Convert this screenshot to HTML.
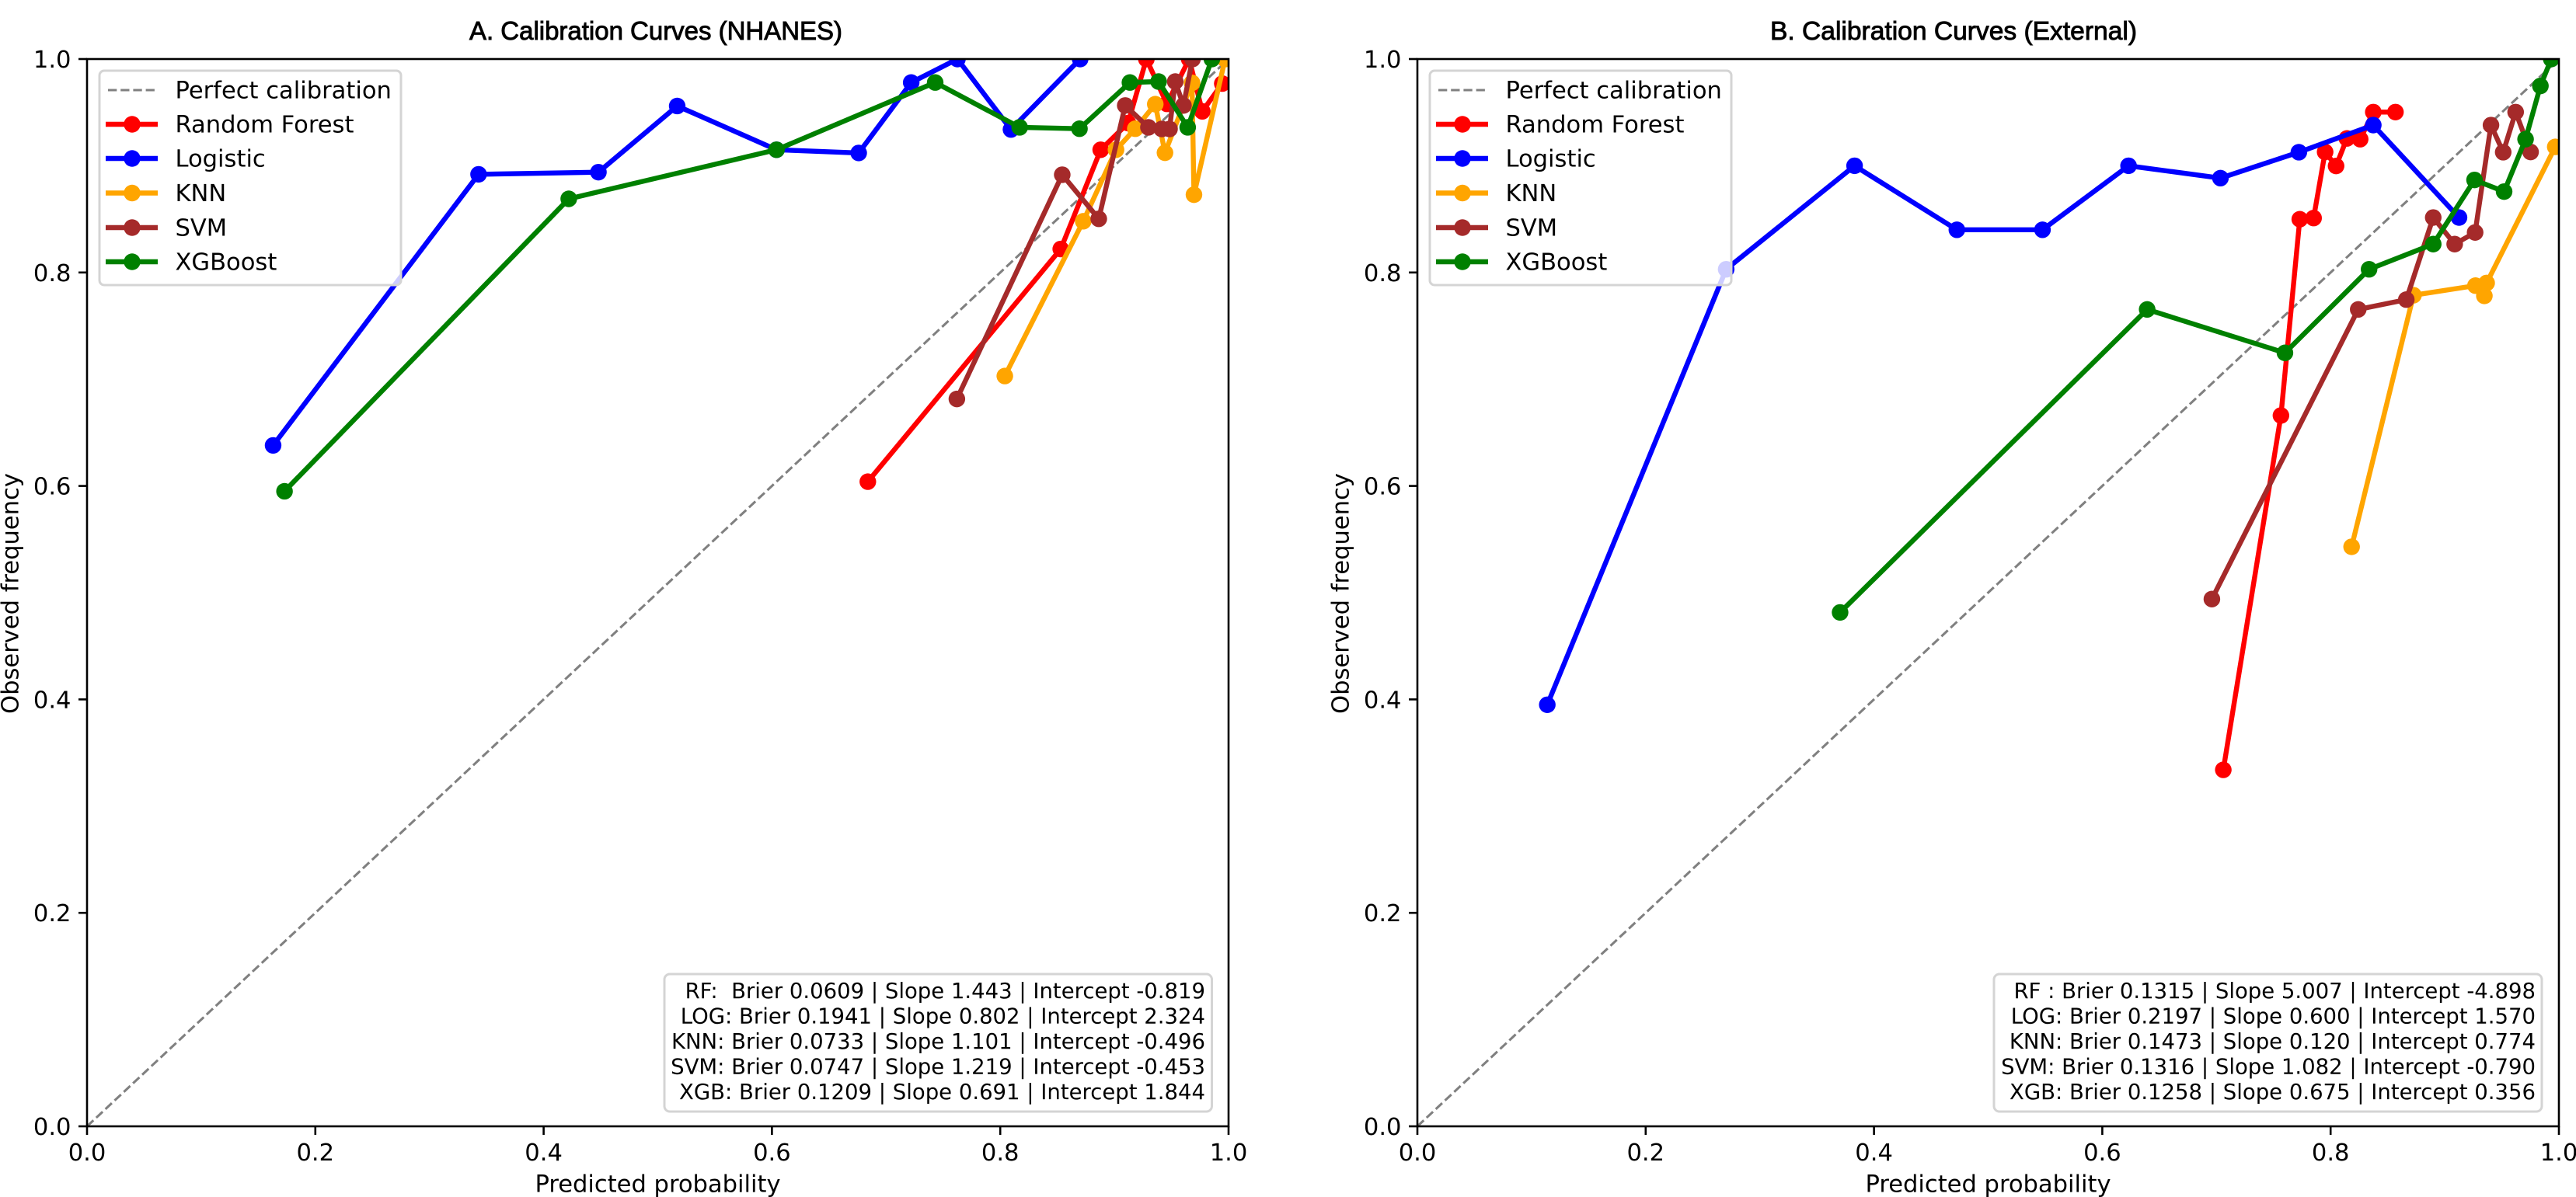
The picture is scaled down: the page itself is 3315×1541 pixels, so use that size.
<!DOCTYPE html>
<html lang="en">
<head>
<meta charset="utf-8">
<title>Calibration Curves</title>
<style>
html,body{margin:0;padding:0;background:#fff;}
svg{display:block;}
text{font-family:"DejaVu Sans","Liberation Sans",sans-serif;fill:#000;white-space:pre;}
.tick-text{font-size:30.56px;}
.axis-title{font-size:30.56px;}
.legend-text{font-size:30.56px;}
.stats-text{font-size:27.5px;text-anchor:end;}
.panel-title{font-family:"Liberation Sans",sans-serif;font-size:33.5px;stroke:#000;stroke-width:0.9px;}
.box{fill:#fff;fill-opacity:0.8;stroke:#d4d4d4;stroke-width:3px;}
</style>
</head>
<body>
<svg id="fig" xmlns="http://www.w3.org/2000/svg" width="3315" height="1541" viewBox="0 0 3315 1541">
  <defs>
    <clipPath id="clip-a"><rect x="112" y="76" width="1469" height="1374"/></clipPath>
    <clipPath id="clip-b"><rect x="1824" y="76" width="1469" height="1374"/></clipPath>
  </defs>

  <g>
    <text class="panel-title" x="604" y="51" textLength="480" lengthAdjust="spacingAndGlyphs">A. Calibration Curves (NHANES)</text>
    <g id="a-marks" clip-path="url(#clip-a)"></g>
    <g id="a-axes"></g>
    <text class="axis-title" x="846.5" y="1534.5" text-anchor="middle">Predicted probability</text>
    <text class="axis-title" transform="translate(23.5 764) rotate(-90)" text-anchor="middle">Observed frequency</text>
    <g>
      <rect class="box" x="128" y="91" width="388" height="276" rx="6"/>
      <line x1="139" y1="116" x2="200" y2="116" stroke="#808080" stroke-width="3.06" stroke-dasharray="11.3 4.9"/>
      <text class="legend-text" x="225.5" y="126.5">Perfect calibration</text>
      <line x1="136" y1="160" x2="203" y2="160" stroke="#ff0000" stroke-width="6.4"/>
      <circle cx="170" cy="160" r="10.7" fill="#ff0000"/>
      <text class="legend-text" x="225.5" y="170.5">Random Forest</text>
      <line x1="136" y1="204" x2="203" y2="204" stroke="#0000ff" stroke-width="6.4"/>
      <circle cx="170" cy="204" r="10.7" fill="#0000ff"/>
      <text class="legend-text" x="225.5" y="214.5">Logistic</text>
      <line x1="136" y1="248.5" x2="203" y2="248.5" stroke="#ffa500" stroke-width="6.4"/>
      <circle cx="170" cy="248.5" r="10.7" fill="#ffa500"/>
      <text class="legend-text" x="225.5" y="259">KNN</text>
      <line x1="136" y1="293" x2="203" y2="293" stroke="#a52a2a" stroke-width="6.4"/>
      <circle cx="170" cy="293" r="10.7" fill="#a52a2a"/>
      <text class="legend-text" x="225.5" y="303.5">SVM</text>
      <line x1="136" y1="337" x2="203" y2="337" stroke="#008000" stroke-width="6.4"/>
      <circle cx="170" cy="337" r="10.7" fill="#008000"/>
      <text class="legend-text" x="225.5" y="347.5">XGBoost</text>
    </g>
    <g>
      <rect class="box" x="855" y="1254" width="704.5" height="177" rx="7"/>
      <text class="stats-text" x="1551" y="1285">RF:  Brier 0.0609 | Slope 1.443 | Intercept -0.819</text>
      <text class="stats-text" x="1551" y="1317.5">LOG: Brier 0.1941 | Slope 0.802 | Intercept 2.324</text>
      <text class="stats-text" x="1551" y="1350">KNN: Brier 0.0733 | Slope 1.101 | Intercept -0.496</text>
      <text class="stats-text" x="1551" y="1382.5">SVM: Brier 0.0747 | Slope 1.219 | Intercept -0.453</text>
      <text class="stats-text" x="1551" y="1415">XGB: Brier 0.1209 | Slope 0.691 | Intercept 1.844</text>
    </g>
  </g>

  <g>
    <text class="panel-title" x="2278" y="51" textLength="472" lengthAdjust="spacingAndGlyphs">B. Calibration Curves (External)</text>
    <g id="b-marks" clip-path="url(#clip-b)"></g>
    <g id="b-axes"></g>
    <text class="axis-title" x="2558.5" y="1534.5" text-anchor="middle">Predicted probability</text>
    <text class="axis-title" transform="translate(1735.5 764) rotate(-90)" text-anchor="middle">Observed frequency</text>
    <g>
      <rect class="box" x="1840" y="91" width="388" height="276" rx="6"/>
      <line x1="1851" y1="116" x2="1912" y2="116" stroke="#808080" stroke-width="3.06" stroke-dasharray="11.3 4.9"/>
      <text class="legend-text" x="1937.5" y="126.5">Perfect calibration</text>
      <line x1="1848" y1="160" x2="1915" y2="160" stroke="#ff0000" stroke-width="6.4"/>
      <circle cx="1882" cy="160" r="10.7" fill="#ff0000"/>
      <text class="legend-text" x="1937.5" y="170.5">Random Forest</text>
      <line x1="1848" y1="204" x2="1915" y2="204" stroke="#0000ff" stroke-width="6.4"/>
      <circle cx="1882" cy="204" r="10.7" fill="#0000ff"/>
      <text class="legend-text" x="1937.5" y="214.5">Logistic</text>
      <line x1="1848" y1="248.5" x2="1915" y2="248.5" stroke="#ffa500" stroke-width="6.4"/>
      <circle cx="1882" cy="248.5" r="10.7" fill="#ffa500"/>
      <text class="legend-text" x="1937.5" y="259">KNN</text>
      <line x1="1848" y1="293" x2="1915" y2="293" stroke="#a52a2a" stroke-width="6.4"/>
      <circle cx="1882" cy="293" r="10.7" fill="#a52a2a"/>
      <text class="legend-text" x="1937.5" y="303.5">SVM</text>
      <line x1="1848" y1="337" x2="1915" y2="337" stroke="#008000" stroke-width="6.4"/>
      <circle cx="1882" cy="337" r="10.7" fill="#008000"/>
      <text class="legend-text" x="1937.5" y="347.5">XGBoost</text>
    </g>
    <g>
      <rect class="box" x="2566" y="1254" width="705" height="177" rx="7"/>
      <text class="stats-text" x="3263" y="1285">RF : Brier 0.1315 | Slope 5.007 | Intercept -4.898</text>
      <text class="stats-text" x="3263" y="1317.5">LOG: Brier 0.2197 | Slope 0.600 | Intercept 1.570</text>
      <text class="stats-text" x="3263" y="1350">KNN: Brier 0.1473 | Slope 0.120 | Intercept 0.774</text>
      <text class="stats-text" x="3263" y="1382.5">SVM: Brier 0.1316 | Slope 1.082 | Intercept -0.790</text>
      <text class="stats-text" x="3263" y="1415">XGB: Brier 0.1258 | Slope 0.675 | Intercept 0.356</text>
    </g>
  </g>
</svg>

<script>
const tickValues = [0, 0.2, 0.4, 0.6, 0.8, 1.0];
const tickLabels = ["0.0", "0.2", "0.4", "0.6", "0.8", "1.0"];
const diagonalValues = [0, 1];

const seriesNames = ["Random Forest", "Logistic", "KNN", "SVM", "XGBoost"];
const seriesSlugs = ["rf", "logistic", "knn", "svm", "xgboost"];
const seriesColors = ["#ff0000", "#0000ff", "#ffa500", "#a52a2a", "#008000"];

const aRfX = [0.684, 0.853, 0.888, 0.912, 0.928, 0.946, 0.9655, 0.977, 0.9945];
const aRfY = [0.604, 0.822, 0.915, 0.94, 1.0, 0.958, 1.0, 0.951, 0.977];
const aLogX = [0.163, 0.343, 0.448, 0.517, 0.604, 0.676, 0.722, 0.7625, 0.8094, 0.87];
const aLogY = [0.638, 0.892, 0.894, 0.956, 0.915, 0.912, 0.978, 1.0, 0.934, 1.0];
const aKnnX = [0.804, 0.8727, 0.9014, 0.9183, 0.9358, 0.9443, 0.968, 0.9697, 0.997];
const aKnnY = [0.703, 0.848, 0.915, 0.9347, 0.9577, 0.9122, 0.9777, 0.8729, 1.0];
const aSvmX = [0.762, 0.8543, 0.8863, 0.9095, 0.9298, 0.9415, 0.9483, 0.9533, 0.9605, 0.9684];
const aSvmY = [0.6815, 0.8916, 0.8503, 0.9565, 0.936, 0.9345, 0.9345, 0.9789, 0.9565, 1.0];
const aXgbX = [0.173, 0.422, 0.604, 0.743, 0.817, 0.8694, 0.9136, 0.9387, 0.9642, 0.9854];
const aXgbY = [0.595, 0.869, 0.915, 0.978, 0.936, 0.9347, 0.978, 0.9789, 0.936, 1.0];

const bRfX = [0.706, 0.7565, 0.773, 0.7851, 0.7952, 0.8048, 0.8143, 0.8259, 0.8374, 0.8568];
const bRfY = [0.334, 0.666, 0.8499, 0.851, 0.9129, 0.8998, 0.9256, 0.9249, 0.9503, 0.9503];
const bLogX = [0.1138, 0.2705, 0.383, 0.4726, 0.5476, 0.623, 0.7035, 0.7722, 0.8374, 0.9125];
const bLogY = [0.395, 0.803, 0.9, 0.84, 0.84, 0.9, 0.8884, 0.9127, 0.9381, 0.8515];
const bKnnX = [0.8184, 0.8726, 0.9269, 0.9347, 0.9367, 0.9968];
const bKnnY = [0.543, 0.7787, 0.7877, 0.7781, 0.7902, 0.9177];
const bSvmX = [0.696, 0.8242, 0.8663, 0.8899, 0.9087, 0.9266, 0.9405, 0.9512, 0.9621, 0.9752];
const bSvmY = [0.494, 0.7654, 0.7746, 0.8515, 0.8266, 0.8375, 0.9381, 0.9127, 0.9503, 0.9129];
const bXgbX = [0.3703, 0.6393, 0.76, 0.8337, 0.8899, 0.9261, 0.952, 0.9708, 0.9838, 0.9933];
const bXgbY = [0.4815, 0.7654, 0.7247, 0.803, 0.8266, 0.8867, 0.8758, 0.9249, 0.9748, 1.0];

const panelAXs = [aRfX, aLogX, aKnnX, aSvmX, aXgbX];
const panelAYs = [aRfY, aLogY, aKnnY, aSvmY, aXgbY];
const panelBXs = [bRfX, bLogX, bKnnX, bSvmX, bXgbX];
const panelBYs = [bRfY, bLogY, bKnnY, bSvmY, bXgbY];

const NS = "http://www.w3.org/2000/svg";
const PLOT_W = 1469, PLOT_TOP = 76, PLOT_BOTTOM = 1450;

function scaleX(left, v) { return left + v * PLOT_W; }
function scaleY(v) { return PLOT_BOTTOM - v * (PLOT_BOTTOM - PLOT_TOP); }

function make(tag, attrs, parent) {
  const el = document.createElementNS(NS, tag);
  for (const k in attrs) el.setAttribute(k, attrs[k]);
  parent.appendChild(el);
  return el;
}

function drawMarks(panelKey, left, xs, ys) {
  const marks = document.getElementById(panelKey + "-marks");
  const diag = make("line", {
    x1: scaleX(left, diagonalValues[0]), y1: scaleY(diagonalValues[0]),
    x2: scaleX(left, diagonalValues[1]), y2: scaleY(diagonalValues[1]),
    stroke: "#808080", "stroke-width": 3.06, "stroke-dasharray": "11.3 4.9"
  }, marks);
  
  

  seriesNames.forEach(function (name, s) {
    const group = make("g", {}, marks);
    
    
    const pts = xs[s].map(function (x, i) { return scaleX(left, x) + "," + scaleY(ys[s][i]); }).join(" ");
    const line = make("polyline", {
      points: pts, fill: "none", stroke: seriesColors[s],
      "stroke-width": 6.4, "stroke-linejoin": "round"
    }, group);
    
    
    xs[s].forEach(function (x, i) {
      const dot = make("circle", {
        cx: scaleX(left, x), cy: scaleY(ys[s][i]), r: 10.7, fill: seriesColors[s]
      }, group);
      
      
    });
  });
}

function drawAxes(panelKey, left) {
  const axes = document.getElementById(panelKey + "-axes");
  const frame = make("rect", {
    x: left, y: PLOT_TOP, width: PLOT_W, height: PLOT_BOTTOM - PLOT_TOP,
    fill: "none", stroke: "#000", "stroke-width": 2.6
  }, axes);
  
  

  tickValues.forEach(function (v, i) {
    const xt = make("line", {
      x1: scaleX(left, v), x2: scaleX(left, v),
      y1: PLOT_BOTTOM, y2: PLOT_BOTTOM + 11, stroke: "#000", "stroke-width": 2.6
    }, axes);
    
    

    const xl = make("text", {
      x: scaleX(left, v), y: PLOT_BOTTOM + 44, "text-anchor": "middle", "class": "tick-text"
    }, axes);
    xl.textContent = tickLabels[i];
    
    

    const yt = make("line", {
      x1: left - 11, x2: left,
      y1: scaleY(v), y2: scaleY(v), stroke: "#000", "stroke-width": 2.6
    }, axes);
    
    

    const yl = make("text", {
      x: left - 20.5, y: scaleY(v) + 11, "text-anchor": "end", "class": "tick-text"
    }, axes);
    yl.textContent = tickLabels[i];
    
    
  });
}

drawMarks("a", 112, panelAXs, panelAYs);
drawAxes("a", 112);
drawMarks("b", 1824, panelBXs, panelBYs);
drawAxes("b", 1824);
</script>
</body>
</html>
